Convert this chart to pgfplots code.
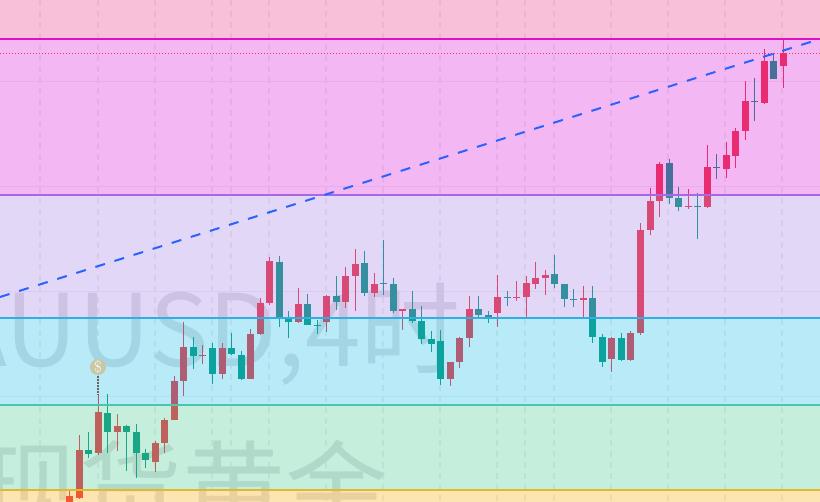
\documentclass[border=0pt]{standalone}
\usepackage{pgfplots}
\usepackage{pgfplotstable}
\usepackage{fontspec}
\pgfplotsset{compat=1.18}
\newfontfamily\cjk{Noto Sans CJK SC}
\definecolor{upc}{HTML}{F23645}
\definecolor{dnc}{HTML}{089981}
\definecolor{wm}{HTML}{E2E2E4}
\definecolor{b1}{RGB}{235,45,128}
\definecolor{b2}{RGB}{215,18,215}
\definecolor{b3}{RGB}{158,122,228}
\definecolor{b4}{RGB}{22,185,228}
\definecolor{b5}{RGB}{65,198,142}
\definecolor{b6}{RGB}{248,168,0}
\pgfplotstableread{
x h t b l
69.3 489 496 510 510
79.3 435 450 498 499
98.3 395 412 453 455
117.3 414 426 432 451
155.3 441 443 462 472
164.3 418 420 443 453
174.3 376 381 420 420
183.3 322 347 381 396
202.3 345 355 356 364
222.3 343 348 374 379
250.3 329 334 379 379
260.3 298 303 334 335
269.3 257 261 303 305
298.3 288 304 322 323
326.3 295 296 322 332
345.3 267 276 302 308
355.3 249 264 276 311
374.3 273 284 293 297
402.3 309 309 311 330
450.3 362 362 379 386
459.3 337 338 362 368
469.3 296 309 338 347
497.3 275 297 313 327
516.3 281 297 298 301
526.3 276 283 297 317
535.3 262 278 284 289
545.3 270 275 278 295
583.3 286 298 300 317
611.3 337 338 359 372
630.3 331 333 360 361
640.3 223 230 333 335
650.3 188 201 230 235
659.3 162 164 201 217
688.3 189 206 207 209
707.3 145 167 207 208
726.3 142 155 169 178
735.3 128 131 156 168
745.3 81 101 131 140
764.3 49 61 103 104
783.3 39 53 66 88
}\uptable
\pgfplotstableread{
x h t b l
88.3 432 450 454 458
107.3 394 413 432 453
126.3 425 426 432 471
136.3 424 432 453 478
145.3 449 453 460 468
193.3 337 347 356 369
212.3 343 348 374 384
231.3 333 348 354 355
241.3 351 355 379 380
279.3 256 262 318 327
288.3 311 318 322 338
307.3 294 304 325 325
317.3 320 325 326 334
336.3 276 296 302 310
364.3 251 263 293 296
383.3 240 283 284 295
393.3 278 284 311 313
412.3 291 309 321 323
421.3 306 321 339 344
431.3 331 339 344 352
440.3 330 341 379 385
478.3 296 309 315 317
488.3 311 315 317 323
507.3 291 297 298 306
554.3 255 274 284 288
564.3 284 284 299 307
573.3 289 299 300 307
592.3 286 298 337 343
602.3 334 337 362 367
621.3 333 338 360 361
669.3 159 163 198 204
678.3 187 198 207 211
697.3 193 206 207 239
716.3 154 167 168 179
754.3 78 101 102 121
773.3 53 61 79 79
}\dntable
\begin{document}
\begin{tikzpicture}
\useasboundingbox (0pt,0pt) rectangle (820pt,502pt);
\clip (0pt,0pt) rectangle (820pt,502pt);
\begin{axis}[at={(0pt,0pt)},anchor=south west,
  scale only axis,width=820pt,height=502pt,
  xmin=0,xmax=820,ymin=0,ymax=502,y dir=reverse,
  axis line style={draw=none},tick style={draw=none},
  xticklabels={},yticklabels={},
  xtick={40,97.5,154.5,211.5,268.5,325.5,382.5,439.5,496.5,553.5,610.5,667.5,724.5,781.5},
  ytick={82,187,292,397},
  grid=major,
  major x grid style={color=black!6,line width=2pt,dash pattern=on 6pt off 5pt},
  major y grid style={color=black!5,line width=1pt},
  extra x ticks={231,525},
  extra x tick style={grid=major,xticklabels={},major grid style={color=black!5,line width=1pt,solid}},
]
\node[anchor=base west,inner sep=0pt,text=wm,font={\cjk\fontsize{100}{100}\selectfont}] at (axis cs:-111,367) {XAUUSD,4时};
\node[anchor=base west,inner sep=0pt,text=wm,font={\cjk\fontsize{103}{103}\selectfont}] at (axis cs:-24,528) {现货黄金};
% wicks and bodies
\addplot[draw=none,forget plot,error bars/.cd,y dir=both,y explicit,error mark=none,error bar style={upc,line width=1.2pt}]
  table[x=x,y=h,y error plus expr=\thisrow{l}-\thisrow{h},y error minus expr=0] {\uptable};
\addplot[draw=none,forget plot,error bars/.cd,y dir=both,y explicit,error mark=none,error bar style={dnc,line width=1.2pt}]
  table[x=x,y=h,y error plus expr=\thisrow{l}-\thisrow{h},y error minus expr=0] {\dntable};
\addplot[draw=none,forget plot,error bars/.cd,y dir=both,y explicit,error mark=none,error bar style={upc,line width=7pt}]
  table[x=x,y=t,y error plus expr=\thisrow{b}-\thisrow{t},y error minus expr=0] {\uptable};
\addplot[draw=none,forget plot,error bars/.cd,y dir=both,y explicit,error mark=none,error bar style={dnc,line width=7pt}]
  table[x=x,y=t,y error plus expr=\thisrow{b}-\thisrow{t},y error minus expr=0] {\dntable};
% bands
\addplot[fill=b1,draw=none,fill opacity=0.3,forget plot] coordinates {(0,0)(820,0)(820,39)(0,39)} --cycle;
\addplot[fill=b2,draw=none,fill opacity=0.3,forget plot] coordinates {(0,39)(820,39)(820,195)(0,195)} --cycle;
\addplot[fill=b3,draw=none,fill opacity=0.3,forget plot] coordinates {(0,195)(820,195)(820,318)(0,318)} --cycle;
\addplot[fill=b4,draw=none,fill opacity=0.3,forget plot] coordinates {(0,318)(820,318)(820,405)(0,405)} --cycle;
\addplot[fill=b5,draw=none,fill opacity=0.3,forget plot] coordinates {(0,405)(820,405)(820,490)(0,490)} --cycle;
\addplot[fill=b6,draw=none,fill opacity=0.3,forget plot] coordinates {(0,490)(820,490)(820,502)(0,502)} --cycle;
% level lines
\addplot[color={rgb,255:red,224;green,16;blue,200},line width=2pt,forget plot] coordinates {(0,39)(820,39)};
\addplot[color={rgb,255:red,168;green,104;blue,224},line width=2pt,forget plot] coordinates {(0,195)(820,195)};
\addplot[color={rgb,255:red,46;green,176;blue,224},line width=2pt,forget plot] coordinates {(0,318)(820,318)};
\addplot[color={rgb,255:red,72;green,200;blue,168},line width=2pt,forget plot] coordinates {(0,405)(820,405)};
\addplot[color={rgb,255:red,226;green,184;blue,48},line width=2pt,forget plot] coordinates {(0,490.5)(820,490.5)};
\addplot[color=upc,line width=0.8pt,dash pattern=on 1pt off 2pt,forget plot] coordinates {(0,53.5)(820,53.5)};
\addplot[color={rgb,255:red,41;green,98;blue,255},line width=2pt,dash pattern=on 10pt off 10pt,forget plot] coordinates {(0,297)(820,39)};
% dividend marker
\addplot[color=black!60,line width=1.3pt,dash pattern=on 2pt off 1pt,forget plot] coordinates {(98,376)(98,395)};
\addplot[only marks,mark=*,mark size=8pt,mark options={fill={rgb,255:red,200;green,200;blue,165},draw opacity=0,line width=0pt},
  nodes near coords={\$},
  every node near coord/.style={anchor=center,text=white,font={\fontsize{16}{16}\selectfont},inner sep=0pt},forget plot] coordinates {(98,367)};
\end{axis}
\end{tikzpicture}
\end{document}
